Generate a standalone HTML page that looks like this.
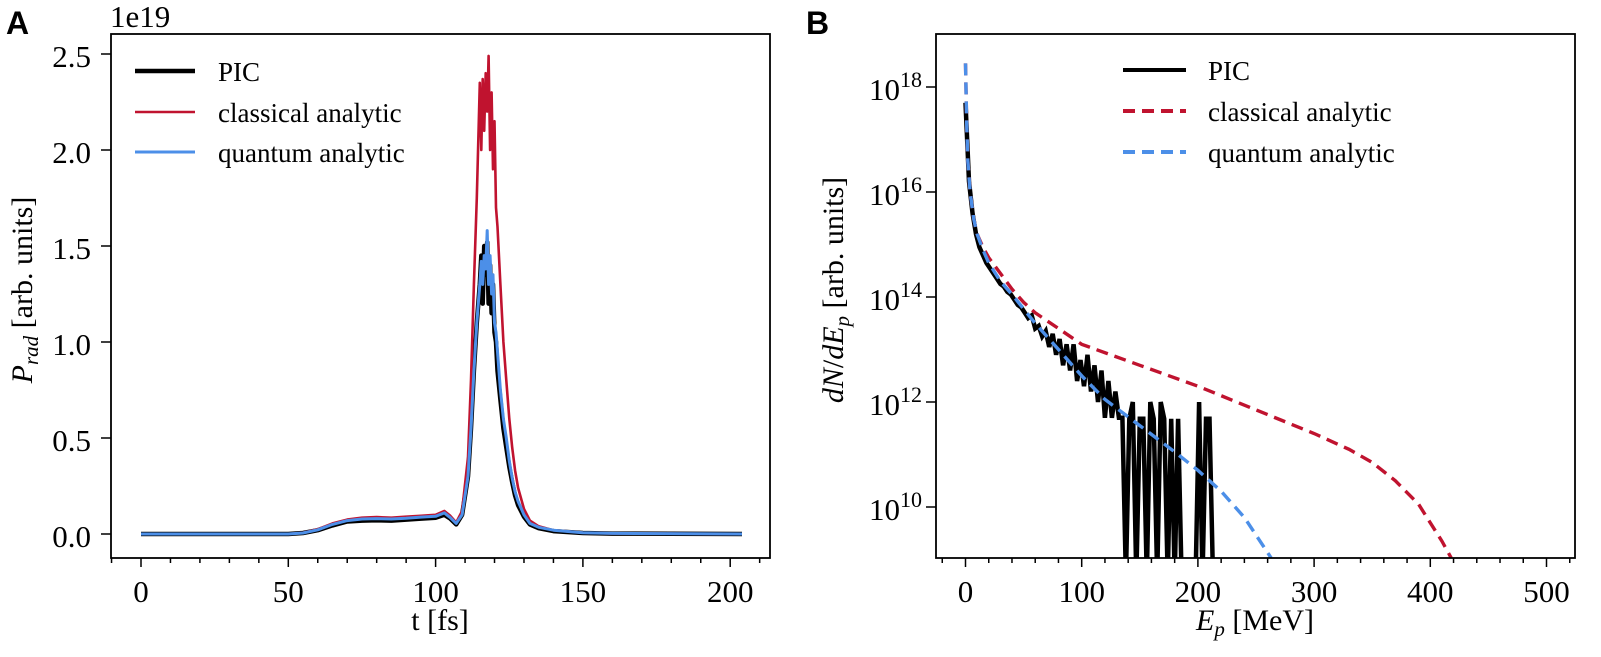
<!DOCTYPE html>
<html><head><meta charset="utf-8">
<style>
html,body{margin:0;padding:0;background:#fff;}
svg{display:block;font-family:"Liberation Serif",serif;}
</style></head>
<body>
<svg id="fig" width="1601" height="657" viewBox="0 0 1601 657" xmlns="http://www.w3.org/2000/svg">
<text x="6" y="34" font-family="Liberation Sans, sans-serif" font-weight="bold" font-size="32">A</text>
<text x="806" y="34" font-family="Liberation Sans, sans-serif" font-weight="bold" font-size="32">B</text>
<g id="pa"></g>
<g id="pb"></g>
</svg>
<script>
// ---- Panel A data ----
const tA = [0,50,55,60,65,70,75,80,85,90,95,100,103,105,107,109,111,112,113,114,115,115.5,116,116.5,117,117.5,118,118.5,119,119.5,120,120.5,121,122,123,124,125,126,127,128,130,132,135,140,150,160,204];
const picA = [0,0,0.005,0.02,0.045,0.065,0.07,0.072,0.07,0.075,0.08,0.085,0.1,0.08,0.05,0.1,0.3,0.55,0.85,1.1,1.3,1.45,1.2,1.5,1.35,1.52,1.2,1.4,1.15,1.3,1.05,1.0,0.85,0.7,0.55,0.45,0.35,0.27,0.2,0.15,0.09,0.05,0.03,0.015,0.005,0.002,0];
const classA = [0,0,0.006,0.025,0.055,0.075,0.085,0.088,0.085,0.09,0.095,0.1,0.12,0.095,0.06,0.12,0.4,0.8,1.3,1.75,2.35,2.0,2.37,2.1,2.4,2.2,2.49,2.0,2.3,1.9,2.15,1.7,1.6,1.3,1.0,0.8,0.6,0.45,0.33,0.24,0.13,0.07,0.04,0.02,0.007,0.003,0];
const quantA = [0,0,0.005,0.022,0.05,0.07,0.078,0.08,0.078,0.082,0.088,0.092,0.11,0.085,0.055,0.1,0.3,0.55,0.85,1.1,1.3,1.42,1.3,1.45,1.38,1.58,1.3,1.45,1.25,1.35,1.1,1.05,0.95,0.75,0.6,0.5,0.38,0.29,0.22,0.17,0.1,0.055,0.035,0.02,0.007,0.003,0];
const xTicksA = [0,50,100,150,200];
const yTicksA = [0.0,0.5,1.0,1.5,2.0,2.5];
const yTickLabelsA = ["0.0","0.5","1.0","1.5","2.0","2.5"];
// ---- Panel B data (log10 of dN/dEp) ----
const eQ = [0,1,2,4,7,10,15,20,30,40,60,80,100,120,150,180,200,220,240,263];
const logQ = [18.45,17.3,16.6,16.0,15.5,15.2,14.9,14.65,14.3,14.05,13.5,13.0,12.5,12.05,11.55,11.05,10.7,10.3,9.8,9.03];
const eC = [0,1,2,4,7,10,15,20,30,40,50,60,80,100,150,200,250,300,330,350,370,390,400,410,418];
const logC = [18.45,17.3,16.6,16.0,15.5,15.2,14.95,14.75,14.45,14.15,13.9,13.7,13.4,13.1,12.7,12.3,11.85,11.4,11.1,10.85,10.5,10.05,9.7,9.35,9.03];
const eP = [0,3,6,9,12,15,18,21,24,27,30,33,36,39,42,45,48,51,54,57,60,63,66,69,72,75,78,81,84,87,90,93,96,99,102,105,108,111,114,117,120,123,126,129,132,135,138,141,144,147,150,153,156,159,162,165,168,171,174,177,180,183,186,189,192,195,198,201,204,207,210,213];
// 0 means zero counts (drops below the axis)
const logP = [17.7,16.2,15.6,15.2,14.95,14.8,14.65,14.55,14.45,14.35,14.25,14.2,14.1,14.05,13.95,13.85,13.8,13.7,13.6,13.65,13.4,13.45,13.25,13.35,13.05,13.3,12.9,13.2,12.7,13.1,12.6,13.1,12.4,12.8,12.3,12.9,12.2,12.7,12.0,12.6,11.7,12.4,11.7,12.2,11.7,11.7,0,11.68,12.0,0,11.68,11.68,0,12.0,11.68,0,12.0,11.68,0,11.68,0,11.68,0,0,0,0,0,12.0,0,11.68,11.68,0];
const xTicksB = [0,100,200,300,400,500];
const yTicksB = [10,12,14,16,18];

const NS = "http://www.w3.org/2000/svg";
function mk(parent, tag, attrs){ const e=document.createElementNS(NS,tag); for(const k in attrs) e.setAttribute(k,attrs[k]); parent.appendChild(e); return e; }
const TICK_FS = 31, LEG_FS = 27, TITLE_FS = 30;

// ---------- Panel A ----------
const A = {l:111, r:770, t:34, b:558};
const xA = v => 141 + v*2.946;
const yA = v => 534 - v*192;
const pa = document.getElementById('pa');
const clipA = mk(pa,'clipPath',{id:'clipA'}); mk(clipA,'rect',{x:A.l,y:A.t,width:A.r-A.l,height:A.b-A.t});
function lineA(vals, color, w, name){
  const d = tA.map((t,i)=>(i?'L':'M')+xA(t).toFixed(1)+','+yA(vals[i]).toFixed(1)).join('');
  const p = mk(pa,'path',{d:d,fill:'none',stroke:color,'stroke-width':w,'stroke-linejoin':'round','clip-path':'url(#clipA)'});
  
  
}
lineA(picA,'#000',4.5,'pic-line-a');
lineA(classA,'#c0132f',2.6,'classical-line-a');
lineA(quantA,'#4c8fe8',3,'quantum-line-a');
const frameA = mk(pa,'rect',{x:A.l,y:A.t,width:A.r-A.l,height:A.b-A.t,fill:'none',stroke:'#000','stroke-width':1.8});


for(let v=-10; v<=210; v+=10){
  const x=xA(v); if(x<A.l||x>A.r) continue;
  const major = v%50===0;
  mk(pa,'line',{x1:x,x2:x,y1:A.b,y2:A.b+(major?9:5),stroke:'#000','stroke-width':1.5});
}
xTicksA.forEach(v=>{
  const t=mk(pa,'text',{x:xA(v),y:602,'text-anchor':'middle','font-size':TICK_FS}); t.textContent=v;
  
  
});
yTicksA.forEach((v,i)=>{
  const y=yA(v);
  mk(pa,'line',{x1:A.l-10,x2:A.l,y1:y,y2:y,stroke:'#000','stroke-width':1.5});
  const t=mk(pa,'text',{x:A.l-20,y:y+13,'text-anchor':'end','font-size':TICK_FS}); t.textContent=yTickLabelsA[i];
  
  
});
{
  const t=mk(pa,'text',{x:110,y:27,'font-size':TICK_FS}); t.textContent='1e19';
  
  
  const xl=mk(pa,'text',{x:440,y:630,'text-anchor':'middle','font-size':TITLE_FS}); xl.textContent='t [fs]';
  
  
  const yl=mk(pa,'text',{x:0,y:0,'text-anchor':'middle','font-size':TITLE_FS,transform:'translate(32,290) rotate(-90)'});
  yl.innerHTML='<tspan font-style="italic">P</tspan><tspan font-style="italic" font-size="21" dy="6">rad</tspan><tspan dy="-6"> [arb. units]</tspan>';
  
  
}
[['PIC','#000',4.5,71],['classical analytic','#c0132f',2.6,112],['quantum analytic','#4c8fe8',3,152]].forEach((e,i)=>{
  const g=mk(pa,'g',{});
  
  
  mk(g,'line',{x1:135,x2:195,y1:e[3],y2:e[3],stroke:e[1],'stroke-width':e[2]});
  const t=mk(g,'text',{x:218,y:e[3]+10,'font-size':LEG_FS}); t.textContent=e[0];
});

// ---------- Panel B ----------
const B = {l:936, r:1575, t:34, b:558};
const xB = v => 965.5 + v*1.162;
const yB = v => 87 - (v-18)*52.5;
const pb = document.getElementById('pb');
const clipB = mk(pb,'clipPath',{id:'clipB'}); mk(clipB,'rect',{x:B.l,y:B.t,width:B.r-B.l,height:B.b-B.t});
function lineB(es, ls, color, w, dash, name){
  const d = es.map((e,i)=>(i?'L':'M')+xB(e).toFixed(1)+','+(ls[i]===0?B.b+20:yB(ls[i])).toFixed(1)).join('');
  const a={d:d,fill:'none',stroke:color,'stroke-width':w,'stroke-linejoin':'miter','clip-path':'url(#clipB)'};
  if(dash) a['stroke-dasharray']=dash;
  const p = mk(pb,'path',a);
  
  
}
lineB(eP,logP,'#000',4.5,null,'pic-line-b');
lineB(eC,logC,'#c0132f',3.4,'12 7','classical-line-b');
lineB(eQ,logQ,'#4c8fe8',3.4,'12 7','quantum-line-b');
const frameB = mk(pb,'rect',{x:B.l,y:B.t,width:B.r-B.l,height:B.b-B.t,fill:'none',stroke:'#000','stroke-width':1.8});


for(let v=-20; v<=520; v+=20){
  const x=xB(v); if(x<B.l||x>B.r) continue;
  const major = v%100===0;
  mk(pb,'line',{x1:x,x2:x,y1:B.b,y2:B.b+(major?9:5),stroke:'#000','stroke-width':1.5});
}
xTicksB.forEach(v=>{
  const t=mk(pb,'text',{x:xB(v),y:602,'text-anchor':'middle','font-size':TICK_FS}); t.textContent=v;
  
  
});
yTicksB.forEach(v=>{
  const y=yB(v);
  mk(pb,'line',{x1:B.l-10,x2:B.l,y1:y,y2:y,stroke:'#000','stroke-width':1.5});
  const t=mk(pb,'text',{x:B.l-14,y:y+13,'text-anchor':'end','font-size':TICK_FS});
  t.innerHTML='10<tspan dy="-13" font-size="22">'+v+'</tspan>';
  
  
});
{
  const xl=mk(pb,'text',{x:1255,y:630,'text-anchor':'middle','font-size':TITLE_FS});
  xl.innerHTML='<tspan font-style="italic">E</tspan><tspan font-style="italic" font-size="21" dy="6">p</tspan><tspan dy="-6"> [MeV]</tspan>';
  
  
  const yl=mk(pb,'text',{x:0,y:0,'text-anchor':'middle','font-size':TITLE_FS,transform:'translate(843,290) rotate(-90)'});
  yl.innerHTML='<tspan font-style="italic">dN</tspan>/<tspan font-style="italic">dE</tspan><tspan font-style="italic" font-size="21" dy="6">p</tspan><tspan dy="-6"> [arb. units]</tspan>';
  
  
}
[['PIC','#000',null,70],['classical analytic','#c0132f','12 7',111],['quantum analytic','#4c8fe8','12 7',152]].forEach(e=>{
  const g=mk(pb,'g',{});
  
  
  const a={x1:1123,x2:1186,y1:e[3],y2:e[3],stroke:e[1],'stroke-width':4};
  if(e[2]) a['stroke-dasharray']=e[2];
  mk(g,'line',a);
  const t=mk(g,'text',{x:1208,y:e[3]+10,'font-size':LEG_FS}); t.textContent=e[0];
});
</script>
</body></html>
